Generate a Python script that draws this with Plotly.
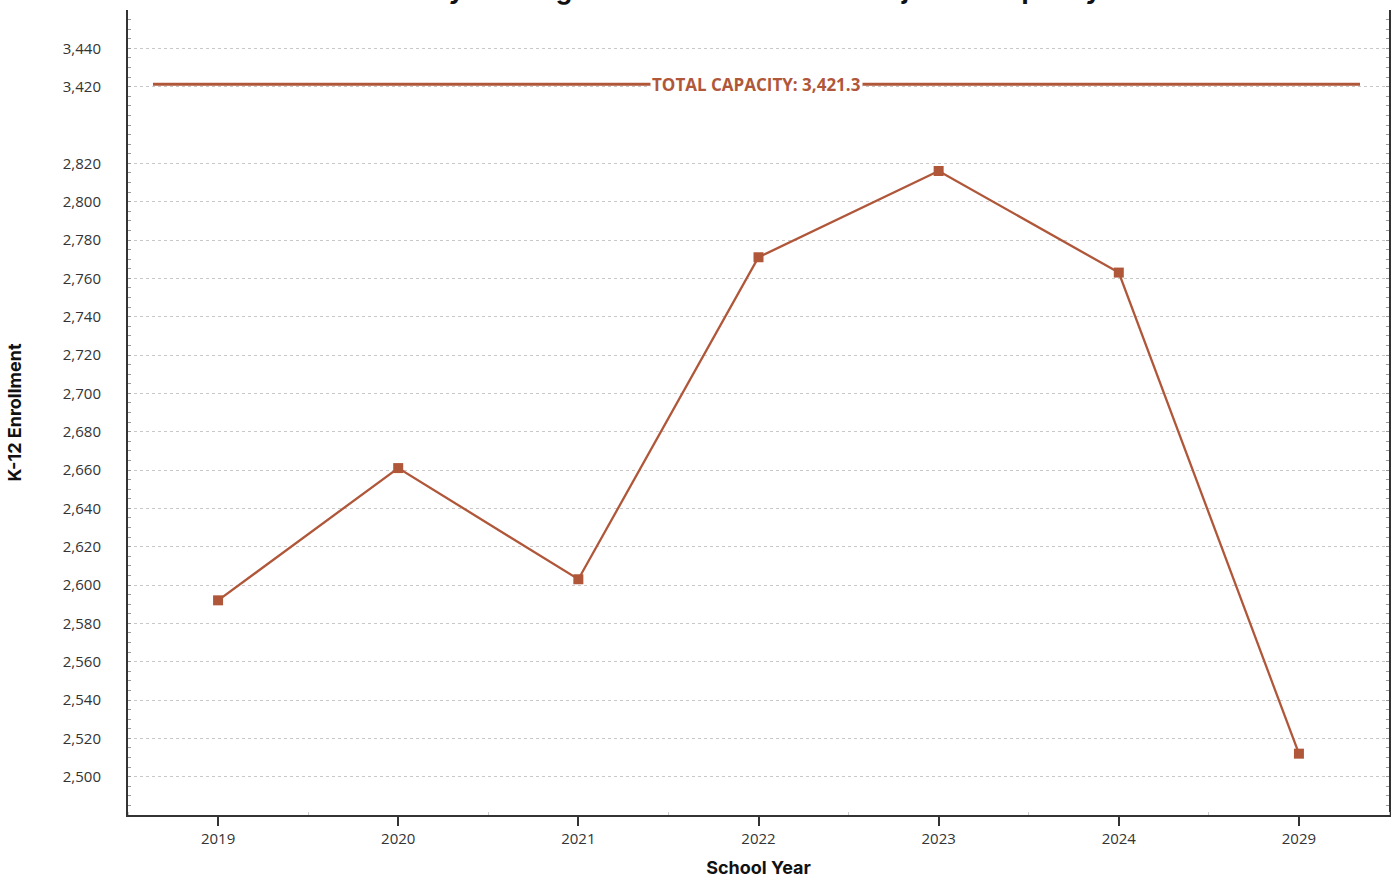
import plotly.graph_objects as go

# ---- data ----
years = ["2019", "2020", "2021", "2022", "2023", "2024", "2029"]
enrollment = [2592, 2661, 2603, 2771, 2816, 2763, 2512]
capacity = 3421.3
capacity_label = "TOTAL CAPACITY: 3,421.3"
lower_ticks = list(range(2500, 2821, 20))
upper_ticks = [3420, 3440]
title_text = "Key Existing School Enrollment vs. Projected Capacity"

# broken y-axis: values above the break are shifted down
BREAK_OFFSET = 560
def ymap(v):
    return v - BREAK_OFFSET if v > 3000 else v

LINE_COLOR = "#b0573a"
AXIS_COLOR = "#333333"
TICK_FONT = dict(family="Open Sans, Noto Sans, sans-serif", size=15, color="#333333")

xs = list(range(len(years)))

tickvals = [ymap(v) for v in lower_ticks + upper_ticks]
ticktext = [f"{v:,}" for v in lower_ticks + upper_ticks]
minor_vals = [v for v in range(2480, 2841, 5)] + [ymap(v) for v in range(3400, 3461, 5)]

fig = go.Figure()
fig.add_trace(go.Scatter(
    x=xs, y=[ymap(v) for v in enrollment], mode="lines+markers",
    line=dict(color=LINE_COLOR, width=2.3),
    marker=dict(symbol="square", size=10, color=LINE_COLOR),
    showlegend=False, hoverinfo="skip",
))

# capacity line
fig.add_shape(type="line", xref="paper", yref="y",
              x0=0.0198, x1=0.977, y0=ymap(capacity), y1=ymap(capacity),
              line=dict(color=LINE_COLOR, width=3))
fig.add_annotation(xref="paper", yref="y", x=0.4985, y=ymap(capacity),
                   text=f"<b>{capacity_label}</b>", showarrow=False,
                   bgcolor="white", borderpad=1,
                   font=dict(family="Open Sans, sans-serif", size=17, color=LINE_COLOR))

# clipped title (mostly above the visible area, as in the reference)
fig.add_annotation(xref="paper", yref="paper", x=0.5, y=1.0, yshift=3,
                   yanchor="bottom", xanchor="center",
                   text=f"<b>{title_text}</b>", showarrow=False,
                   font=dict(family="Inter, sans-serif", size=26, color="#111111"))

fig.update_layout(
    width=1393, height=880,
    margin=dict(l=128, r=2, t=10, b=65),
    paper_bgcolor="white", plot_bgcolor="white",
    font=TICK_FONT,
)
fig.update_xaxes(
    range=[-0.5, len(years) - 0.5],
    tickmode="array", tickvals=xs, ticktext=years,
    ticks="outside", ticklen=9, tickwidth=2, tickcolor=AXIS_COLOR,
    showline=True, linecolor=AXIS_COLOR, linewidth=2,
    showgrid=False, zeroline=False,
    tickfont=TICK_FONT,
    minor=dict(tickvals=[i + 0.5 for i in range(-1, len(years))],
               ticks="inside", ticklen=3, tickcolor="#cccccc", tickwidth=1),
    title=dict(text="<b>School Year</b>", standoff=14,
               font=dict(family="Inter, sans-serif", size=18, color="#111111")),
)
fig.update_yaxes(
    range=[2480, 2900],
    tickmode="array", tickvals=tickvals, ticktext=ticktext,
    ticks="inside", ticklen=3, tickwidth=1, tickcolor="#999999",
    ticklabelstandoff=22,
    showline=True, linecolor=AXIS_COLOR, linewidth=2, mirror="allticks",
    showgrid=True, gridcolor="#c8c8c8", griddash="dot", gridwidth=1,
    zeroline=False,
    tickfont=TICK_FONT,
    minor=dict(tickvals=minor_vals, ticks="inside", ticklen=3,
               tickcolor="#999999", tickwidth=1, showgrid=False),
    title=dict(text="<b>K-12 Enrollment</b>", standoff=36,
               font=dict(family="Inter, sans-serif", size=18, color="#111111")),
)

fig.write_html("out.html")
